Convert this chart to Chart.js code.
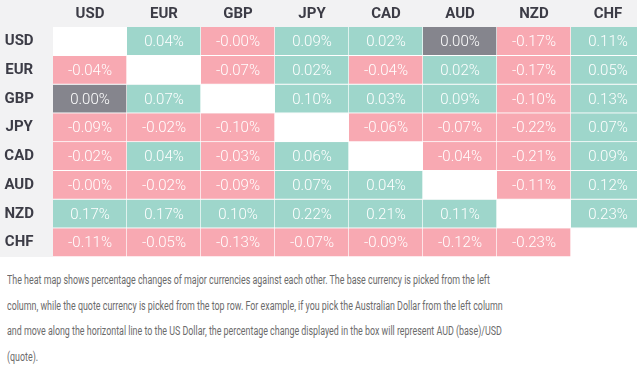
<!DOCTYPE html>
<html>
<head>
<meta charset="utf-8">
<script src="https://cdn.jsdelivr.net/npm/chart.js@4.4.1/dist/chart.umd.min.js"></script>
<style>
  html, body { margin: 0; padding: 0; background: #fff; overflow: hidden; width: 637px; height: 377px; }
  #wrap { position: absolute; left: 0; top: 0; width: 645px; height: 257px; background: #f2f2f3; }
  #note {
    position: absolute; left: 7px; top: 268px;
    font-family: Roboto, sans-serif; font-weight: 400; font-size: 12px;
    line-height: 25.6px; color: #6b6b6b; white-space: nowrap;
    transform: scaleX(0.74); transform-origin: left top;
  }
</style>
</head>
<body>
<div id="wrap"><canvas id="heatmap" width="645" height="257"></canvas></div>
<div id="note">The heat map shows percentage changes of major currencies against each other. The base currency is picked from the left<br>column, while the quote currency is picked from the top row. For example, if you pick the Australian Dollar from the left column<br>and move along the horizontal line to the US Dollar, the percentage change displayed in the box will represent AUD (base)/USD<br>(quote).</div>
<script>
// quote currencies (top) and base currencies (left)
const currencies = ['USD', 'EUR', 'GBP', 'JPY', 'CAD', 'AUD', 'NZD', 'CHF'];

// % change per base row, columns in the same order; null = same currency
const usdRow = [null, 0.04, -0.001, 0.09, 0.02, 0.00, -0.17, 0.11];
const eurRow = [-0.04, null, -0.07, 0.02, -0.04, 0.02, -0.17, 0.05];
const gbpRow = [0.00, 0.07, null, 0.10, 0.03, 0.09, -0.10, 0.13];
const jpyRow = [-0.09, -0.02, -0.10, null, -0.06, -0.07, -0.22, 0.07];
const cadRow = [-0.02, 0.04, -0.03, 0.06, null, -0.04, -0.21, 0.09];
const audRow = [-0.001, -0.02, -0.09, 0.07, 0.04, null, -0.11, 0.12];
const nzdRow = [0.17, 0.17, 0.10, 0.22, 0.21, 0.11, null, 0.23];
const chfRow = [-0.11, -0.05, -0.13, -0.07, -0.09, -0.12, -0.23, null];

const rows = [usdRow, eurRow, gbpRow, jpyRow, cadRow, audRow, nzdRow, chfRow];

function cellColor(v) {
    if (v === null) return '#ffffff';
    if (v > 0) return '#9ed6cb';
    if (v < 0) return '#f8a9b2';
    return '#85858d';
}

// one floating-bar dataset per base row
const datasets = rows.map((row, i) => ({
    label: currencies[i],
    data: row.map(() => [i, i + 1]),
    values: row,
    backgroundColor: row.map(cellColor),
    borderColor: '#ffffff',
    borderWidth: { top: 0, left: 0, right: 1, bottom: 1 },
    borderSkipped: false,
    barPercentage: 1,
    categoryPercentage: 1,
    grouped: false
}));

const cellLabels = {
    id: 'cellLabels',
    afterDatasetsDraw(chart) {
        const ctx = chart.ctx;
        ctx.save();
        ctx.font = '300 15px Roboto';
        ctx.fillStyle = '#ffffff';
        ctx.textAlign = 'center';
        ctx.textBaseline = 'middle';
        chart.data.datasets.forEach((ds, i) => {
            chart.getDatasetMeta(i).data.forEach((bar, j) => {
                const v = ds.values[j];
                if (v === null) return;
                ctx.fillText(v.toFixed(2) + '%', bar.x, (bar.y + bar.base) / 2 + 1);
            });
        });
        ctx.restore();
    }
};

function noPadding(scale) {
    scale.paddingTop = 0;
    scale.paddingBottom = 0;
    scale.paddingLeft = 0;
    scale.paddingRight = 0;
}

new Chart(document.getElementById('heatmap').getContext('2d'), {
    type: 'bar',
    data: { labels: currencies, datasets: datasets },
    options: {
        responsive: false,
        animation: false,
        devicePixelRatio: 1,
        layout: { padding: 0 },
        plugins: { legend: { display: false }, tooltip: { enabled: false } },
        scales: {
            x: {
                position: 'top',
                grid: { display: false },
                border: { display: false },
                ticks: {
                    padding: -4,
                    color: '#3c3c46',
                    font: { family: 'Roboto', size: 15, weight: 'bold' }
                },
                afterFit(scale) { scale.height = 27; noPadding(scale); }
            },
            y: {
                type: 'linear',
                min: 0,
                max: currencies.length,
                reverse: true,
                grid: { display: false },
                border: { display: false },
                afterBuildTicks(scale) {
                    scale.ticks = currencies.map((c, i) => ({ value: i + 0.5 }));
                },
                ticks: {
                    padding: 11,
                    crossAlign: 'center',
                    color: '#3c3c46',
                    font: { family: 'Roboto', size: 15, weight: 'bold' },
                    callback: (v) => currencies[Math.floor(v)]
                },
                afterFit(scale) { scale.width = 53; noPadding(scale); }
            }
        }
    },
    plugins: [cellLabels]
});
</script>
</body>
</html>
